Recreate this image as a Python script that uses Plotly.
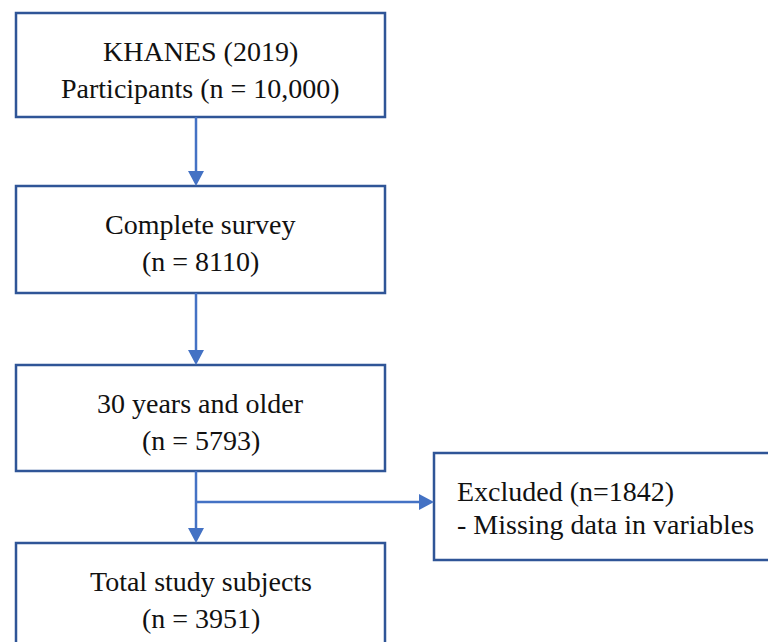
import plotly.graph_objects as go

# ---- content ----
box_titles = ["KHANES (2019)", "Complete survey", "30 years and older", "Total study subjects"]
box_counts = ["Participants (n = 10,000)", "(n = 8110)", "(n = 5793)", "(n = 3951)"]
excluded_title = "Excluded (n=1842)"
excluded_reason = "- Missing data in variables"

# ---- layout geometry (pixels, in page coordinates) ----
W, H = 776, 642
PAGE_MARGIN = 8  # default body margin of the html page
main_x0, main_x1 = 16, 385
main_y = [(13, 117), (186, 293), (365, 471), (543, 660)]
exc_box = (434, 453, 800, 560)
branch_y = 502
arrow_x = 196
head_len, head_half = 15, 8
line1_off, line2_off = 38, 75

BOX_COLOR = "#2F5597"
ARROW_COLOR = "#4472C4"
FONT = dict(family="Liberation Serif", size=28, color="#111111")

shapes = []
annotations = []

for (y0, y1) in main_y:
    shapes.append(dict(type="rect", xref="x", yref="y", x0=main_x0, x1=main_x1, y0=y0, y1=y1,
                       line=dict(color=BOX_COLOR, width=2.5), fillcolor="white", layer="below"))

x0, y0, x1, y1 = exc_box
shapes.append(dict(type="rect", xref="x", yref="y", x0=x0, x1=x1, y0=y0, y1=y1,
                   line=dict(color=BOX_COLOR, width=2.5), fillcolor="white", layer="below"))


def v_arrow(ya, yb):
    shapes.append(dict(type="line", xref="x", yref="y", x0=arrow_x, x1=arrow_x, y0=ya, y1=yb - head_len + 1,
                       line=dict(color=ARROW_COLOR, width=2.5)))
    shapes.append(dict(type="path", xref="x", yref="y",
                       path=f"M {arrow_x - head_half} {yb - head_len} L {arrow_x + head_half} {yb - head_len} L {arrow_x} {yb} Z",
                       fillcolor=ARROW_COLOR, line=dict(color=ARROW_COLOR, width=0)))


for i in range(len(main_y) - 1):
    v_arrow(main_y[i][1], main_y[i + 1][0])

# horizontal branch to excluded box
xt = exc_box[0]
shapes.append(dict(type="line", xref="x", yref="y", x0=arrow_x, x1=xt - head_len + 1, y0=branch_y, y1=branch_y,
                   line=dict(color=ARROW_COLOR, width=2.5)))
shapes.append(dict(type="path", xref="x", yref="y",
                   path=f"M {xt - head_len} {branch_y - head_half} L {xt - head_len} {branch_y + head_half} L {xt} {branch_y} Z",
                   fillcolor=ARROW_COLOR, line=dict(color=ARROW_COLOR, width=0)))

# text
cx = (main_x0 + main_x1) / 2
for t, c, (ya, _) in zip(box_titles, box_counts, main_y):
    annotations.append(dict(x=cx, y=ya + line1_off, xref="x", yref="y", text=t, showarrow=False,
                            xanchor="center", yanchor="middle", font=FONT))
    annotations.append(dict(x=cx, y=ya + line2_off, xref="x", yref="y", text=c, showarrow=False,
                            xanchor="center", yanchor="middle", font=FONT))

annotations.append(dict(x=455, y=491, xref="x", yref="y", text=excluded_title, showarrow=False,
                        xanchor="left", yanchor="middle", font=FONT))
annotations.append(dict(x=455, y=524, xref="x", yref="y", text=excluded_reason, showarrow=False,
                        xanchor="left", yanchor="middle", font=FONT))

fig = go.Figure()
fig.update_layout(
    width=W - PAGE_MARGIN, height=H - PAGE_MARGIN,
    margin=dict(l=0, r=0, t=0, b=0),
    paper_bgcolor="white", plot_bgcolor="white",
    xaxis=dict(range=[PAGE_MARGIN, W], visible=False, fixedrange=True),
    yaxis=dict(range=[H, PAGE_MARGIN], visible=False, fixedrange=True),
    shapes=shapes, annotations=annotations, showlegend=False,
)
fig.write_html("out.html")
